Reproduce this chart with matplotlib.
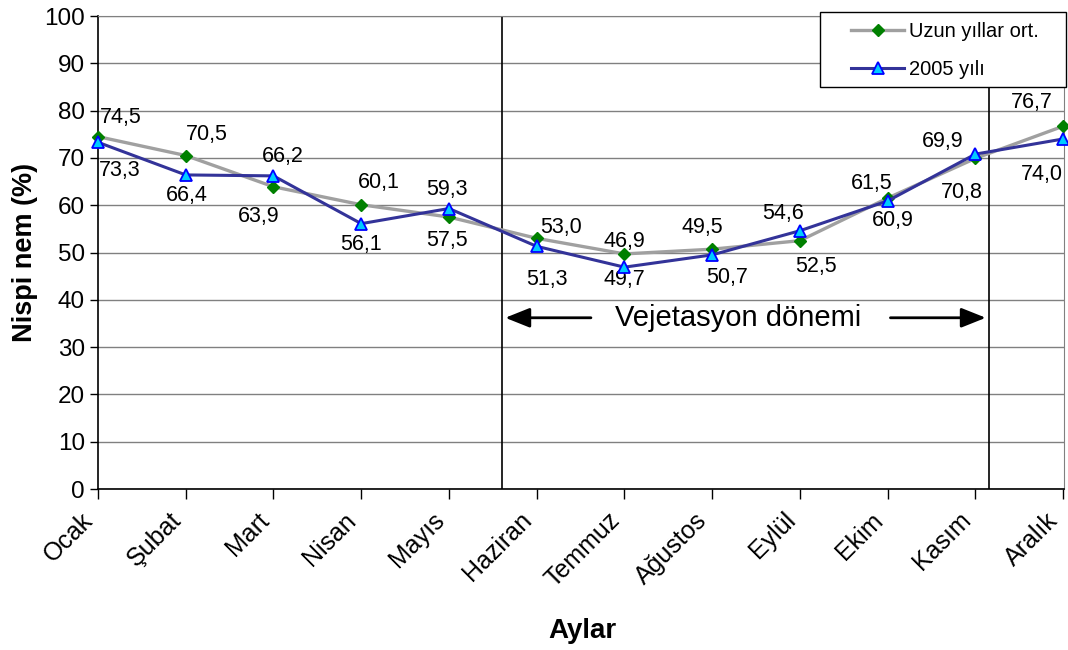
import matplotlib
matplotlib.use("Agg")
import matplotlib.pyplot as plt
from matplotlib.patches import Rectangle

plt.rcParams["font.family"] = ["Liberation Sans", "DejaVu Sans"]

months = ["Ocak", "Şubat", "Mart", "Nisan", "Mayıs", "Haziran",
          "Temmuz", "Ağustos", "Eylül", "Ekim", "Kasım", "Aralık"]
uzun = [74.5, 70.5, 63.9, 60.1, 57.5, 53.0, 49.7, 50.7, 52.5, 61.5, 69.9, 76.7]
y2005 = [73.3, 66.4, 66.2, 56.1, 59.3, 51.3, 46.9, 49.5, 54.6, 60.9, 70.8, 74.0]
yticks = list(range(0, 101, 10))

# label offsets in pixels (dx, dy), dy positive = up
off_uzun = [(23, 19), (21, 21), (-15, -30), (18, 22), (-2, -23), (24, 11),
            (0, -26), (15, -28), (16, -26), (-16, 15), (-33, 17), (-31, 24)]
off_2005 = [(22, -28), (1, -21), (9, 19), (0, -21), (-2, 19), (10, -33),
            (0, 26), (-10, 27), (-17, 17), (5, -20), (-14, -38), (-21, -36)]

W, H = 1068, 650
fig = plt.figure(figsize=(W / 100, H / 100), dpi=100)
ax = fig.add_axes([98 / W, 161 / H, 966 / W, 473 / H])

x = list(range(len(months)))
ax.plot(x, uzun, color="#A0A0A0", lw=2.4, marker="D", ms=6.5,
        mfc="#008000", mec="#008000", label="Uzun yıllar ort.", zorder=3,
        clip_on=False)
ax.plot(x, y2005, color="#333399", lw=2.2, marker="^", ms=8.5,
        mfc="#00CCFF", mec="#0000FF", mew=1.3, label="2005 yılı", zorder=4,
        clip_on=False)

for xi, v, (dx, dy) in zip(x, uzun, off_uzun):
    ax.annotate(f"{v:.1f}".replace(".", ","), (xi, v), xytext=(dx, dy),
                textcoords="offset pixels", ha="center", va="center", fontsize=15.5)
for xi, v, (dx, dy) in zip(x, y2005, off_2005):
    ax.annotate(f"{v:.1f}".replace(".", ","), (xi, v), xytext=(dx, dy),
                textcoords="offset pixels", ha="center", va="center", fontsize=15.5)

# vegetation period markers
veg_start, veg_end = 4.61, 10.15
ax.axvline(veg_start, color="black", lw=1.2, zorder=2)
ax.axvline(veg_end, color="black", lw=1.2, zorder=2)
ax.annotate("", xy=(veg_start, 36.2), xytext=(5.65, 36.2),
            arrowprops=dict(arrowstyle="-|>,head_length=1.5,head_width=0.6",
                            color="black", lw=2))
ax.annotate("", xy=(veg_end, 36.2), xytext=(9.0, 36.2),
            arrowprops=dict(arrowstyle="-|>,head_length=1.5,head_width=0.6",
                            color="black", lw=2))
ax.text(7.3, 36.2, "Vejetasyon dönemi", ha="center", va="center", fontsize=21)

ax.set_xlim(0, 11.01)
ax.set_ylim(0, 100)
ax.set_yticks(yticks)
ax.set_xticks(x)
ax.set_xticklabels([])
for xi, m in zip(x, months):
    ax.annotate(m, (xi, 0), xycoords=("data", "axes fraction"), xytext=(-17, -19),
                textcoords="offset pixels", rotation=45, ha="right", va="top",
                rotation_mode="anchor", fontsize=18, annotation_clip=False)
ax.tick_params(axis="y", labelsize=17.5, direction="out", length=6, width=1)
ax.tick_params(axis="x", direction="out", length=7, width=1)
ax.grid(axis="y", color="#808080", lw=1)
ax.set_axisbelow(True)
ax.spines["top"].set_color("#808080")
ax.spines["right"].set_color("#808080")
ax.spines["left"].set_linewidth(1.2)
ax.spines["bottom"].set_linewidth(1.2)

ax.set_ylabel("Nispi nem (%)", fontsize=19.5, fontweight="bold", labelpad=4)
ax.set_xlabel("Aylar", fontsize=20, fontweight="bold")
ax.xaxis.set_label_coords(0.501, -0.272)

# legend: frame drawn separately to get the wide side padding
box = Rectangle((820 / W, 1 - 87 / H), 246 / W, 75 / H, transform=fig.transFigure,
                fc="white", ec="black", lw=1, zorder=5, clip_on=False)
ax.add_patch(box)
leg = ax.legend(loc="upper left", bbox_to_anchor=(845 / W, 1 - 16 / H),
                bbox_transform=fig.transFigure, fontsize=14.5, frameon=False,
                handlelength=2.65, handletextpad=0.25, borderpad=0.3,
                borderaxespad=0, labelspacing=0.95)
leg.set_zorder(6)

fig.savefig("out.png", dpi=100)
